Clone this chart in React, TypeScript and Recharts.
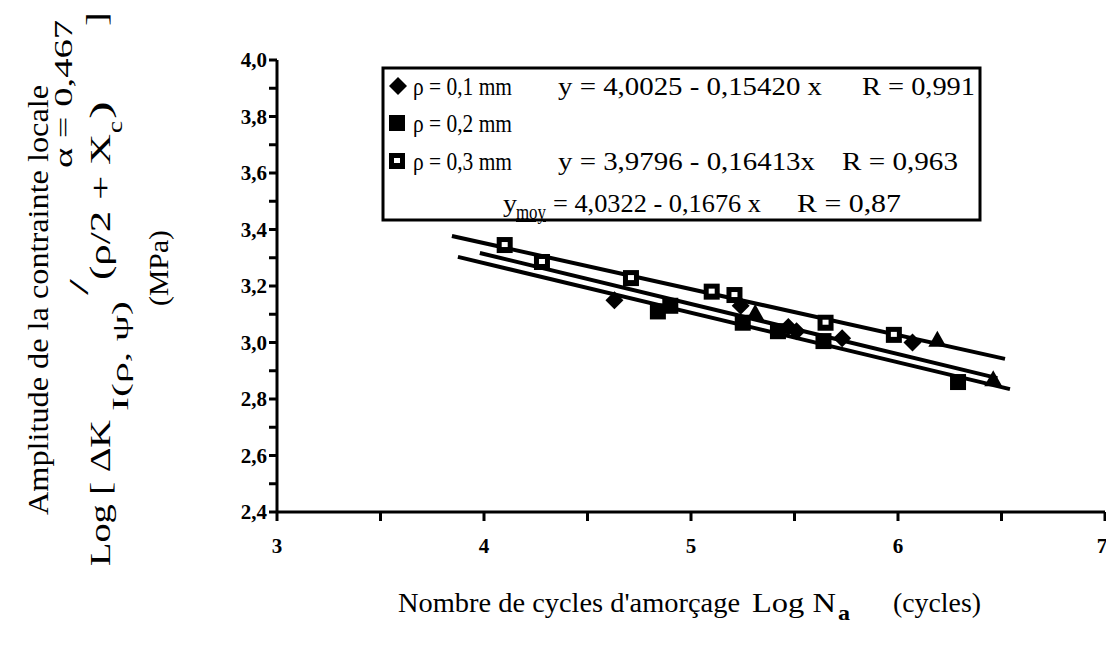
import React from 'react';
import { ScatterChart, Scatter, XAxis, YAxis, Customized } from 'recharts';

// ρ = 0,1 mm (filled diamonds)
const rho01X = [4.63, 5.24, 5.47, 5.51, 5.73, 6.07];
const rho01Y = [3.15, 3.13, 3.055, 3.04, 3.015, 3.0];
// ρ = 0,2 mm (filled squares)
const rho02X = [4.84, 4.9, 5.25, 5.42, 5.64, 6.29];
const rho02Y = [3.11, 3.13, 3.07, 3.04, 3.005, 2.86];
// ρ = 0,3 mm (open squares)
const rho03X = [4.1, 4.28, 4.71, 5.1, 5.21, 5.65, 5.98];
const rho03Y = [3.345, 3.285, 3.228, 3.18, 3.168, 3.07, 3.027];
// extra triangle markers (not in legend)
const triX = [5.31, 6.19, 6.46];
const triY = [3.104, 3.01, 2.87];
// regression lines (end points)
const fitTopX = [3.845, 6.517];
const fitTopY = [3.377, 2.942];
const fitMidX = [3.98, 6.48];
const fitMidY = [3.317, 2.874];
const fitLowX = [3.874, 6.541];
const fitLowY = [3.303, 2.835];

const xTicks = [3, 3.5, 4, 4.5, 5, 5.5, 6, 6.5, 7];
const yTicks = [2.4, 2.5, 2.6, 2.7, 2.8, 2.9, 3.0, 3.1, 3.2, 3.3, 3.4, 3.5, 3.6, 3.7, 3.8, 3.9, 4.0];

const zip = (xs: number[], ys: number[]) => xs.map((x, i) => ({ x, y: ys[i] }));

const FONT = 'Liberation Serif';

const Diamond = (p: any) => {
  const { cx, cy } = p;
  if (cx == null || cy == null) return null;
  const r = 9;
  return <polygon points={`${cx},${cy - r} ${cx + r},${cy} ${cx},${cy + r} ${cx - r},${cy}`} fill="#000" />;
};
const FilledSquare = (p: any) => {
  const { cx, cy } = p;
  if (cx == null || cy == null) return null;
  return <rect x={cx - 8} y={cy - 8} width={16} height={16} fill="#000" />;
};
const OpenSquare = (p: any) => {
  const { cx, cy } = p;
  if (cx == null || cy == null) return null;
  return (
    <g>
      <rect x={cx - 8} y={cy - 8} width={16} height={16} fill="#000" />
      <rect x={cx - 3} y={cy - 3} width={6} height={5} fill="#fff" />
    </g>
  );
};
const Triangle = (p: any) => {
  const { cx, cy } = p;
  if (cx == null || cy == null) return null;
  return <polygon points={`${cx},${cy - 9} ${cx + 9},${cy + 7} ${cx - 9},${cy + 7}`} fill="#000" />;
};
const NoShape = () => null;

const T = ({ x, y, w, fs = 26, children, ...rest }: any) => (
  <text x={x} y={y} fontSize={fs} textLength={w} lengthAdjust="spacingAndGlyphs" fontFamily={FONT} fill="#000" {...rest}>
    {children}
  </text>
);
// rotated text: (bx = baseline x, y0 = start y at bottom, len = length upward)
const R = ({ bx, y0, len, fs = 28, children, ...rest }: any) => (
  <text
    transform={`translate(${bx},${y0}) rotate(-90)`}
    fontSize={fs}
    textLength={len}
    lengthAdjust="spacingAndGlyphs"
    fontFamily={FONT}
    fill="#000"
    {...rest}
  >
    {children}
  </text>
);

const XTick = (p: any) => {
  const { x, y, payload } = p;
  const v = payload.value;
  if (!Number.isInteger(v)) return null;
  return (
    <text x={x} y={y + 28} textAnchor="middle" fontSize={21} fontWeight="bold" fontFamily={FONT} fill="#000">
      {String(v)}
    </text>
  );
};
const YTick = (p: any) => {
  const { x, y, payload } = p;
  const v = payload.value;
  if (Math.round(v * 10) % 2 !== 0) return null;
  return (
    <text x={x} y={y + 7} textAnchor="end" fontSize={21} fontWeight="bold" fontFamily={FONT} fill="#000">
      {v.toFixed(1).replace('.', ',')}
    </text>
  );
};

const Overlay = () => (
  <g transform="translate(-8,-8)">
    {/* legend box */}
    <rect x={383} y={68} width={597} height={152} fill="#fff" stroke="#000" strokeWidth={3} />
    <Diamond cx={398} cy={86} />
    <FilledSquare cx={397} cy={123} />
    <OpenSquare cx={397} cy={161} />
    <T x={413} y={95} w={99}>ρ = 0,1 mm</T>
    <T x={558} y={95} w={264}>y = 4,0025 -  0,15420 x</T>
    <T x={862} y={95} w={113}>R = 0,991</T>
    <T x={413} y={132} w={99}>ρ = 0,2 mm</T>
    <T x={413} y={170} w={99}>ρ = 0,3 mm</T>
    <T x={558} y={170} w={257}>y = 3,9796 -  0,16413x</T>
    <T x={842} y={170} w={116}>R = 0,963</T>
    <T x={503} y={212} w={14}>y</T>
    <T x={516} y={219} w={30} fs={20} style={{ textDecoration: 'underline' }}>moy</T>
    <T x={553} y={212} w={208}>= 4,0322 - 0,1676 x</T>
    <T x={797} y={212} w={104}>R = 0,87</T>

    {/* x axis title */}
    <T x={398} y={612} w={342} fs={28}>Nombre de cycles d'amorçage</T>
    <T x={752} y={612} w={84} fs={28}>Log N</T>
    <T x={838} y={620} w={12} fs={22} fontWeight="bold">a</T>
    <T x={893} y={612} w={88} fs={28}>(cycles)</T>

    {/* y axis title */}
    <R bx={48} y0={515} len={430} fs={29}>Amplitude de la contrainte locale</R>
    <R bx={110} y0={566} len={146} fs={30}>Log [ ΔK</R>
    <R bx={128} y0={411} len={110} fs={24}>I(ρ, ψ)</R>
    <R bx={88} y0={295} len={16} fs={28}>/</R>
    <R bx={110} y0={280} len={146} fs={30}>(ρ/2 + X</R>
    <R bx={122} y0={133} len={12} fs={22}>c</R>
    <R bx={110} y0={119} len={18} fs={30}>)</R>
    <R bx={72} y0={168} len={148} fs={26}>α = 0,467</R>
    <R bx={106} y0={26} len={14} fs={30}>]</R>
    <R bx={168} y0={306} len={76} fs={27}>(MPa)</R>
  </g>
);

export default function App() {
  return (
    <ScatterChart
      width={1098}
      height={633}
      margin={{ top: 52, right: 1, left: 0, bottom: 69 }}
      style={{ fontFamily: FONT }}
    >
      <XAxis
        xAxisId="b"
        type="number"
        dataKey="x"
        domain={[3, 7]}
        ticks={xTicks}
        allowDataOverflow
        height={60}
        tick={<XTick />}
        tickSize={9}
        tickMargin={4}
        axisLine={{ stroke: '#000', strokeWidth: 3 }}
        tickLine={{ stroke: '#000', strokeWidth: 3 }}
      />
      <XAxis
        xAxisId="t"
        orientation="top"
        type="number"
        domain={[3, 7]}
        ticks={xTicks}
        height={0}
        tick={false}
        tickLine={false}
        axisLine={{ stroke: '#000', strokeWidth: 3 }}
      />
      <YAxis
        yAxisId="l"
        type="number"
        dataKey="y"
        domain={[2.4, 4.0]}
        ticks={yTicks}
        allowDataOverflow
        width={269}
        tick={<YTick />}
        tickSize={8}
        tickMargin={2}
        axisLine={{ stroke: '#000', strokeWidth: 3 }}
        tickLine={{ stroke: '#000', strokeWidth: 3 }}
      />
      <YAxis
        yAxisId="r"
        orientation="right"
        type="number"
        domain={[2.4, 4.0]}
        width={0}
        tick={false}
        tickLine={false}
        axisLine={{ stroke: '#000', strokeWidth: 3 }}
      />
      <Scatter xAxisId="b" yAxisId="l" data={zip(fitTopX, fitTopY)} line={{ stroke: '#000', strokeWidth: 4 }} shape={NoShape} isAnimationActive={false} />
      <Scatter xAxisId="b" yAxisId="l" data={zip(fitMidX, fitMidY)} line={{ stroke: '#000', strokeWidth: 4 }} shape={NoShape} isAnimationActive={false} />
      <Scatter xAxisId="b" yAxisId="l" data={zip(fitLowX, fitLowY)} line={{ stroke: '#000', strokeWidth: 4 }} shape={NoShape} isAnimationActive={false} />
      <Scatter xAxisId="b" yAxisId="l" name="ρ = 0,1 mm" data={zip(rho01X, rho01Y)} shape={Diamond} isAnimationActive={false} />
      <Scatter xAxisId="b" yAxisId="l" name="ρ = 0,2 mm" data={zip(rho02X, rho02Y)} shape={FilledSquare} isAnimationActive={false} />
      <Scatter xAxisId="b" yAxisId="l" name="ρ = 0,3 mm" data={zip(rho03X, rho03Y)} shape={OpenSquare} isAnimationActive={false} />
      <Scatter xAxisId="b" yAxisId="l" data={zip(triX, triY)} shape={Triangle} isAnimationActive={false} />
      <Customized component={Overlay} />
    </ScatterChart>
  );
}
